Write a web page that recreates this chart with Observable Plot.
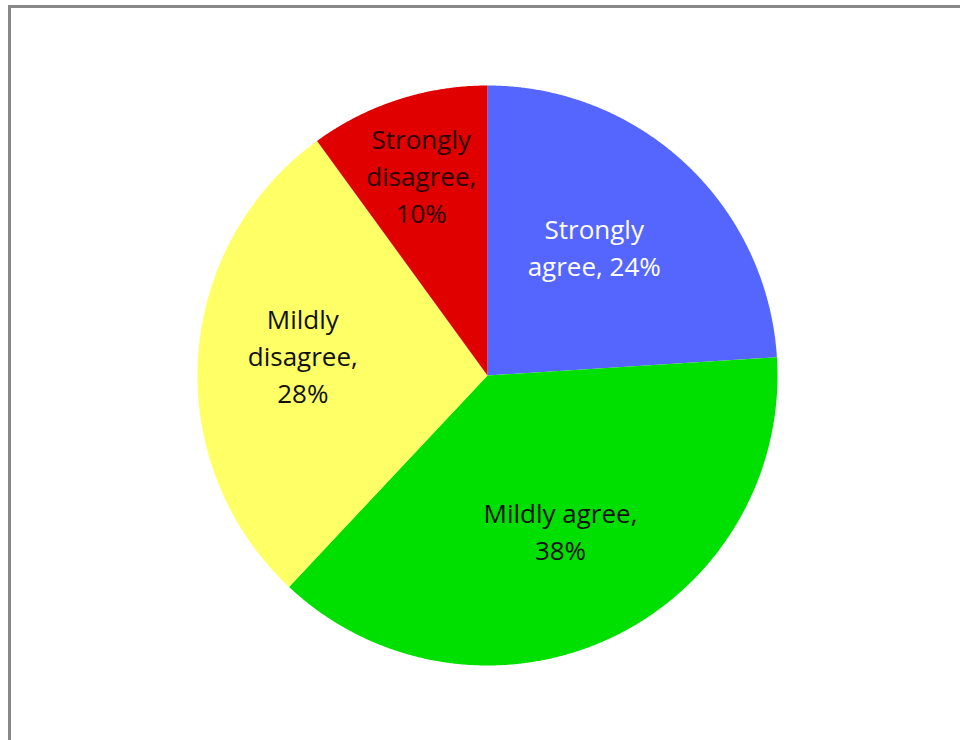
<!DOCTYPE html>
<html>
<head>
<meta charset="utf-8">
<script src="https://cdn.jsdelivr.net/npm/d3@7"></script>
<script src="https://cdn.jsdelivr.net/npm/@observablehq/plot@0.6"></script>
<style>
  html, body { margin: 0; padding: 0; background: #fff; overflow: hidden; }
  #wrap { position: relative; width: 960px; height: 740px; overflow: hidden; }
  #frame { position: absolute; left: 8px; top: 5px; width: 1000px; height: 800px; border: 3px solid #888; box-sizing: border-box; }
  #chart { position: absolute; left: 0; top: 0; }
</style>
</head>
<body>
<div id="wrap"><div id="frame"></div><div id="chart"></div></div>
<script>
// Data
const categories = ["Strongly agree", "Mildly agree", "Mildly disagree", "Strongly disagree"];
const percents = [24, 38, 28, 10];
const labelLines = [["Strongly", "agree, 24%"], ["Mildly agree,", "38%"], ["Mildly", "disagree,", "28%"], ["Strongly", "disagree,", "10%"]];

// Styles
const colors = ["#5566FF", "#00E000", "#FFFF66", "#E00000"];
const textColors = ["#ffffff", "#111111", "#111111", "#2a0000"];
const labelRadius = [0.57, 0.6, 0.64, 0.72];
const labelAngleShift = [-3, 0.4, 2, -0.5];

const total = d3.sum(percents);
const wedgePts = [];
const labels = [];
let acc = 0;
categories.forEach((c, i) => {
  const a0 = acc / total * 2 * Math.PI;
  acc += percents[i];
  const a1 = acc / total * 2 * Math.PI;
  wedgePts.push({cat: c, x: 0, y: 0});
  const n = Math.max(2, Math.ceil((a1 - a0) / (Math.PI / 720)));
  for (let k = 0; k <= n; k++) {
    const a = a0 + (a1 - a0) * k / n;
    wedgePts.push({cat: c, x: Math.sin(a), y: Math.cos(a)});
  }
  const am = (a0 + a1) / 2 + labelAngleShift[i] * Math.PI / 180;
  const r = labelRadius[i];
  const lines = labelLines[i];
  const lh = 0.127;
  lines.forEach((t, j) => {
    labels.push({
      text: t,
      x: r * Math.sin(am),
      y: r * Math.cos(am) - (j - (lines.length - 1) / 2) * lh,
      color: textColors[i]
    });
  });
});

const chart = Plot.plot({
  width: 960,
  height: 740,
  margin: 0,
  x: {domain: [-1, 1], range: [197, 777], axis: null},
  y: {domain: [-1, 1], range: [665, 85], axis: null},
  color: {domain: categories, range: colors},
  style: {fontFamily: "'Open Sans', sans-serif", background: "transparent"},
  marks: [
    Plot.line(wedgePts, {x: "x", y: "y", z: "cat", fill: "cat", stroke: "none", curve: "linear-closed"}),
    Plot.text(labels, {x: "x", y: "y", text: "text", fill: "color", fontSize: 26, textAnchor: "middle"})
  ]
});
document.getElementById("chart").appendChild(chart);
</script>
</body>
</html>
